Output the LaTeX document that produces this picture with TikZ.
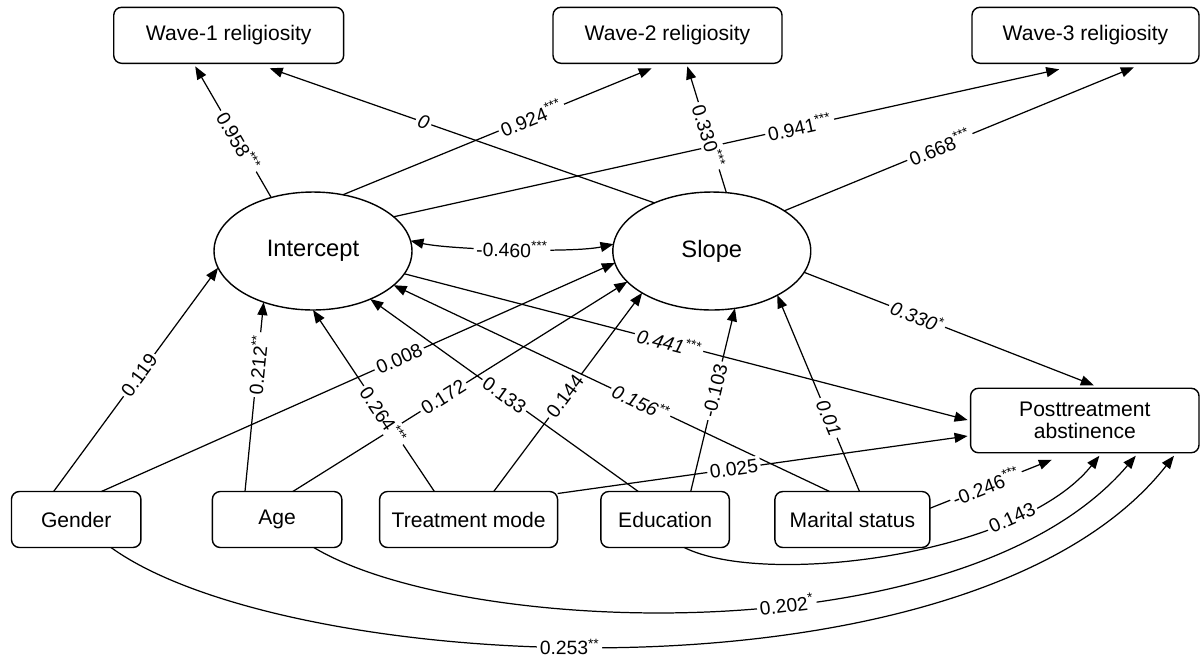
\documentclass[tikz,border=0pt]{standalone}
\usepackage{fontspec}
\setmainfont{Liberation Sans}
\usetikzlibrary{arrows.meta,shapes.geometric,calc}

\begin{document}
\begin{tikzpicture}[
    x=0.02cm, y=-0.02cm,
    every node/.style={inner sep=0pt, outer sep=0pt},
    obs/.style={draw, rounded corners=4.5pt, line width=0.8pt, minimum height=1.12cm, align=center, font=\fontsize{12}{12.5}\selectfont},
    latent/.style={ellipse, draw, line width=0.8pt, minimum width=3.96cm, minimum height=2.36cm, font=\fontsize{13.5}{15}\selectfont},
    effect/.style={draw, line width=0.7pt, -{Triangle[length=2.6mm, width=2mm]}},
    covar/.style={draw, line width=0.7pt, {Triangle[length=2.6mm, width=2mm]}-{Triangle[length=2.6mm, width=2mm]}},
    coef/.style={fill=white, inner sep=1.5pt, sloped, font=\fontsize{11}{12}\selectfont},
    slant/.style={coef, font=\fontsize{11}{12}\selectfont\itshape} % labels printed in italics
    ]
    \useasboundingbox (0,0) rectangle (1200,657);

    \node[obs, minimum width=4.6cm] (w1) at (228.7,35.3) {Wave-1 religiosity};
    \node[obs, minimum width=4.58cm] (w2) at (667.5,35.3) {Wave-2 religiosity};
    \node[obs, minimum width=4.54cm] (w3) at (1085.5,35.3) {Wave-3 religiosity};
    \node[latent] (int) at (313,251) {Intercept};
    \node[latent] (slp) at (711.8,251) {Slope};
    \node[obs, minimum width=4.57cm, minimum height=1.29cm] (post) at (1084.8,420.5) {Posttreatment\\abstinence};
    \node[obs, minimum width=2.59cm] (gen) at (76.2,519.5) {Gender};
    \node[obs, minimum width=2.59cm] (age) at (277.1,519.5) {Age};
    \node[obs, minimum width=3.56cm] (trt) at (468.6,519.5) {Treatment mode};
    \node[obs, minimum width=2.57cm] (edu) at (665.1,519.5) {Education};
    \node[obs, minimum width=3.1cm] (mar) at (852.4,519.5) {Marital status};

    % loadings
    \draw[effect] (int.128.5) -- node[coef, pos=0.43] {0.958\textsuperscript{***}} ($(w1.south)+(-33.5,3)$);
    \draw[effect] (int.62.6) -- node[coef, pos=0.61] {0.924\textsuperscript{***}} ($(w2.south)+(-15.8,5)$);
    \draw[effect] (int.23.3) -- node[coef, pos=0.61] {0.941\textsuperscript{***}} ($(w3.south)+(-26.3,6)$);
    \draw[effect] (slp.140.3) -- node[slant, pos=0.6] {0} ($(w1.south)+(41,5)$);
    \draw[effect] (slp.76) -- node[coef, pos=0.45] {0.330\textsuperscript{***}} ($(w2.south)+(19.8,3)$);
    \draw[effect] (slp.29) -- node[coef, pos=0.445] {0.668\textsuperscript{***}} ($(w3.south)+(48.4,4)$);

    \draw[covar] (int.6) .. controls +(40,9) and +(-40,9) .. node[coef, pos=0.5] {-0.460\textsuperscript{***}} (slp.176);

    % covariates
    \draw[effect] ($(gen.north)+(-22.6,0)$) -- node[coef, pos=0.52] {0.119} (int.190);
    \draw[effect] ($(gen.north)+(25.2,0)$) -- node[coef, pos=0.58] {0.008} (slp.187.4);
    \draw[effect] ($(age.north)+(-32.1,0)$) -- node[coef, pos=0.67] {0.212\textsuperscript{**}} (int.226.6);
    \draw[effect] ($(age.north)+(15.7,0)$) -- node[coef, pos=0.45] {0.172} (slp.200.5);
    \draw[effect] ($(trt.north)+(-34.2,0)$) -- node[coef, pos=0.42] {0.264\textsuperscript{***}} (int.270);
    \draw[effect] ($(trt.north)+(25.1,0)$) -- node[coef, pos=0.48] {0.144} (slp.211);
    \draw[effect] ($(edu.north)+(-26.8,0)$) -- node[coef, pos=0.5] {0.133} (int.320.3);
    \draw[effect] ($(edu.north)+(25.6,0)$) -- node[coef, pos=0.55] {-0.103} (slp.292.7);
    \draw[effect] ($(mar.north)+(-22.8,0)$) -- node[slant, pos=0.433] {0.156\textsuperscript{**}} (int.337.9);
    \draw[effect] ($(mar.north)+(7.1,0)$) -- node[slant, pos=0.375] {0.01} (slp.326);

    % outcome
    \draw[effect] (slp.347.1) -- node[slant, pos=0.39] {0.330\textsuperscript{*}} ($(post.north)+(9,-3)$);
    \draw[effect] (int.346.6) -- node[slant, pos=0.47] {0.441\textsuperscript{***}} ($(post.west)+(-3,-0.5)$);
    \draw[effect] ($(trt.north east)+(0,2)$) -- node[coef, pos=0.43] {0.025} ($(post.west)+(-3,15.5)$);
    \draw[effect] ($(mar.east)+(0,-11.2)$) -- node[coef, pos=0.46] {-0.246\textsuperscript{***}} ($(post.south)+(-33,7)$);
    \draw[effect] ($(edu.south)+(19.1,0)$) .. controls +(80,40) and +(-80,100) .. node[coef, pos=0.75] {0.143} ($(post.south)+(14.6,3)$);
    \draw[effect] ($(age.south)+(36.7,0)$) .. controls +(150,90) and +(-170,200) .. node[coef, pos=0.57] {0.202\textsuperscript{*}} ($(post.south)+(51,3)$);
    \draw[effect] ($(gen.south)+(34.8,0)$) .. controls +(180,130) and +(-200,255) .. node[coef, pos=0.45] {0.253\textsuperscript{**}} ($(post.south)+(89.2,3)$);
\end{tikzpicture}
\end{document}
